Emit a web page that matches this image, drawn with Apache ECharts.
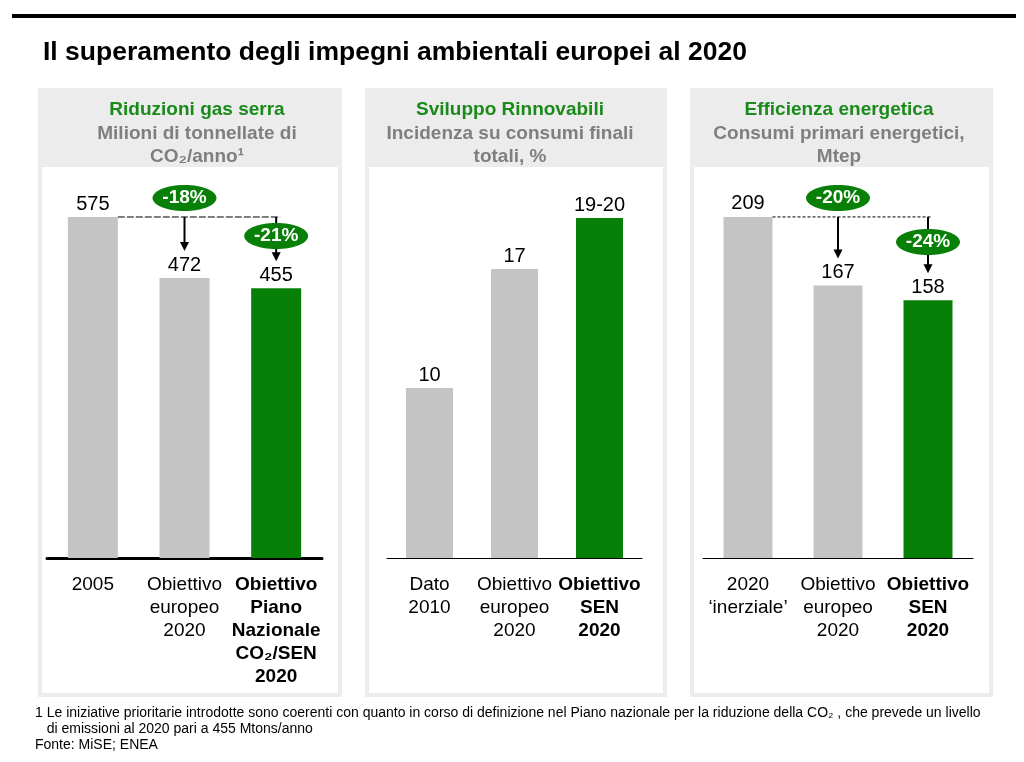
<!DOCTYPE html>
<html><head><meta charset="utf-8">
<script src="https://cdn.jsdelivr.net/npm/echarts@6/dist/echarts.min.js"></script>
<style>html,body{margin:0;padding:0;background:#fff}#c{width:1024px;height:762px}</style>
</head><body><div id="c"></div>
<script>
// ---- data ----
const co2Categories = ['2005', 'Obiettivo\neuropeo\n2020', 'Obiettivo\nPiano\nNazionale\nCO₂/SEN\n2020'];
const co2Values = [575, 472, 455];
const co2Labels = ['575', '472', '455'];
const co2Reductions = ['-18%', '-21%'];

const renCategories = ['Dato\n2010', 'Obiettivo\neuropeo\n2020', 'Obiettivo\nSEN\n2020'];
const renValues = [10, 17, 20];
const renLabels = ['10', '17', '19-20'];

const effCategories = ['2020\n‘inerziale’', 'Obiettivo\neuropeo\n2020', 'Obiettivo\nSEN\n2020'];
const effValues = [209, 167, 158];
const effLabels = ['209', '167', '158'];
const effReductions = ['-20%', '-24%'];

const panelTitles = ['Riduzioni gas serra', 'Sviluppo Rinnovabili', 'Efficienza energetica'];
const panelSubtitles = ['Milioni di tonnellate di\nCO₂/anno¹', 'Incidenza su consumi finali\ntotali, %', 'Consumi primari energetici,\nMtep'];
const mainTitle = 'Il superamento degli impegni ambientali europei al 2020';
const footnote = '1 Le iniziative prioritarie introdotte sono coerenti con quanto in corso di definizione nel Piano nazionale per la riduzione della CO₂ , che prevede un livello\n   di emissioni al 2020 pari a 455 Mtons/anno\nFonte: MiSE; ENEA';

// ---- style ----
const FONT = '"Liberation Sans", Arial, sans-serif';
const GRAY = '#c4c4c4';
const GREEN = '#088008';
const HEAD_GREEN = '#1a8a1a';
const SUB_GRAY = '#7f7f7f';

const panels = [
  {x: 38, x2: 342, hx: 197, grid: {left: 47, width: 275}, barW: 50, max: 620.5, axisW: 3},
  {x: 365, x2: 667, hx: 510, grid: {left: 387, width: 255}, barW: 47, max: 21.65, axisW: 1},
  {x: 690, x2: 993, hx: 839, grid: {left: 703, width: 270}, barW: 49, max: 225.5, axisW: 1}
];
const GRID_TOP = 190, GRID_H = 368;

const chart = echarts.init(document.getElementById('c'), null, {renderer: 'canvas'});

function barData(vals) {
  return vals.map((v, i) => ({value: v, itemStyle: {color: i === 2 ? GREEN : GRAY}}));
}

function annotationRenderer(vals, cuts, barW, dash) {
  return function (params, api) {
    const b = api.coord([0, vals[0]]);
    const p1 = api.coord([1, vals[1]]);
    const p2 = api.coord([2, vals[2]]);
    const y0 = b[1];
    const tip1 = p1[1] - 27, tip2 = p2[1] - 27;
    function arrow(x, ya, yb) {
      return [
        {type: 'line', shape: {x1: x, y1: ya, x2: x, y2: yb - 7}, style: {stroke: '#000', lineWidth: 2}},
        {type: 'polygon', shape: {points: [[x - 4.5, yb - 9], [x + 4.5, yb - 9], [x, yb]]}, style: {fill: '#000'}}
      ];
    }
    function bubble(cx, cy, txt) {
      return [
        {type: 'ellipse', shape: {cx: cx, cy: cy, rx: 32, ry: 13}, style: {fill: GREEN}},
        {type: 'text', x: cx, y: cy, style: {text: txt, fill: '#fff', font: 'bold 19px ' + FONT, align: 'center', verticalAlign: 'middle'}}
      ];
    }
    const children = [
      {type: 'line', shape: {x1: b[0] + barW / 2, y1: y0, x2: p2[0] + 4, y2: y0}, style: {stroke: '#000', lineWidth: 1, lineDash: dash}}
    ].concat(arrow(p1[0], y0, tip1), arrow(p2[0], y0, tip2),
      bubble(p1[0], y0 - 19, cuts[0]), bubble(p2[0], (y0 + tip2) / 2 - 3, cuts[1]));
    return {type: 'group', children: children};
  };
}

const catSets = [co2Categories, renCategories, effCategories];
const valSets = [co2Values, renValues, effValues];
const labSets = [co2Labels, renLabels, effLabels];

const grids = panels.map(p => ({left: p.grid.left, width: p.grid.width, top: GRID_TOP, height: GRID_H}));
const xAxes = panels.map((p, k) => ({
  type: 'category', gridIndex: k, data: catSets[k],
  axisTick: {show: false},
  axisLine: {show: true, lineStyle: {color: '#000', width: p.axisW}},
  axisLabel: {
    interval: 0, margin: 15, color: '#000', fontFamily: FONT, fontSize: 19, lineHeight: 23,
    formatter: (v, i) => i === 2 ? v.split('\n').map(s => '{b|' + s + '}').join('\n') : v,
    rich: {b: {fontWeight: 'bold', fontFamily: FONT, fontSize: 19, lineHeight: 23, color: '#000'}}
  }
}));
const yAxes = panels.map((p, k) => ({type: 'value', gridIndex: k, min: 0, max: p.max, show: false, splitLine: {show: false}}));

const series = panels.map((p, k) => ({
  type: 'bar', xAxisIndex: k, yAxisIndex: k, barWidth: p.barW,
  data: barData(valSets[k]),
  label: {show: true, position: 'top', distance: 3, color: '#000', fontFamily: FONT, fontSize: 20,
    formatter: (prm) => labSets[k][prm.dataIndex]}
}));
series.push({type: 'custom', xAxisIndex: 0, yAxisIndex: 0, z: 5, silent: true, data: [[0, 0]],
  renderItem: annotationRenderer(co2Values, co2Reductions, panels[0].barW, [7, 2])});
series.push({type: 'custom', xAxisIndex: 2, yAxisIndex: 2, z: 5, silent: true, data: [[0, 0]],
  renderItem: annotationRenderer(effValues, effReductions, panels[2].barW, [3, 2])});

const graphic = [
  {type: 'rect', shape: {x: 12, y: 14, width: 1004, height: 4}, style: {fill: '#000'}},
  {type: 'text', x: 43, y: 53, style: {text: mainTitle, font: 'bold 26.5px ' + FONT, fill: '#000', verticalAlign: 'middle'}},
  {type: 'text', x: 35, y: 705, style: {text: footnote, font: '14px ' + FONT, fill: '#000', lineHeight: 16, verticalAlign: 'top'}}
];
panels.forEach((p, k) => {
  graphic.push({type: 'rect', z: -10, shape: {x: p.x, y: 88, width: p.x2 - p.x, height: 609}, style: {fill: '#ececec'}});
  graphic.push({type: 'rect', z: -9, shape: {x: p.x + 4, y: 167, width: p.x2 - p.x - 8, height: 526}, style: {fill: '#fff'}});
  graphic.push({type: 'text', x: p.hx, y: 110, style: {text: panelTitles[k], font: 'bold 19px ' + FONT, fill: HEAD_GREEN, align: 'center', verticalAlign: 'middle'}});
  graphic.push({type: 'text', x: p.hx, y: 122, style: {text: panelSubtitles[k], font: 'bold 19px ' + FONT, fill: SUB_GRAY, align: 'center', verticalAlign: 'top', lineHeight: 23}});
});

chart.setOption({
  animation: false,
  backgroundColor: '#fff',
  textStyle: {fontFamily: FONT},
  grid: grids, xAxis: xAxes, yAxis: yAxes, series: series, graphic: graphic
});
</script></body></html>
